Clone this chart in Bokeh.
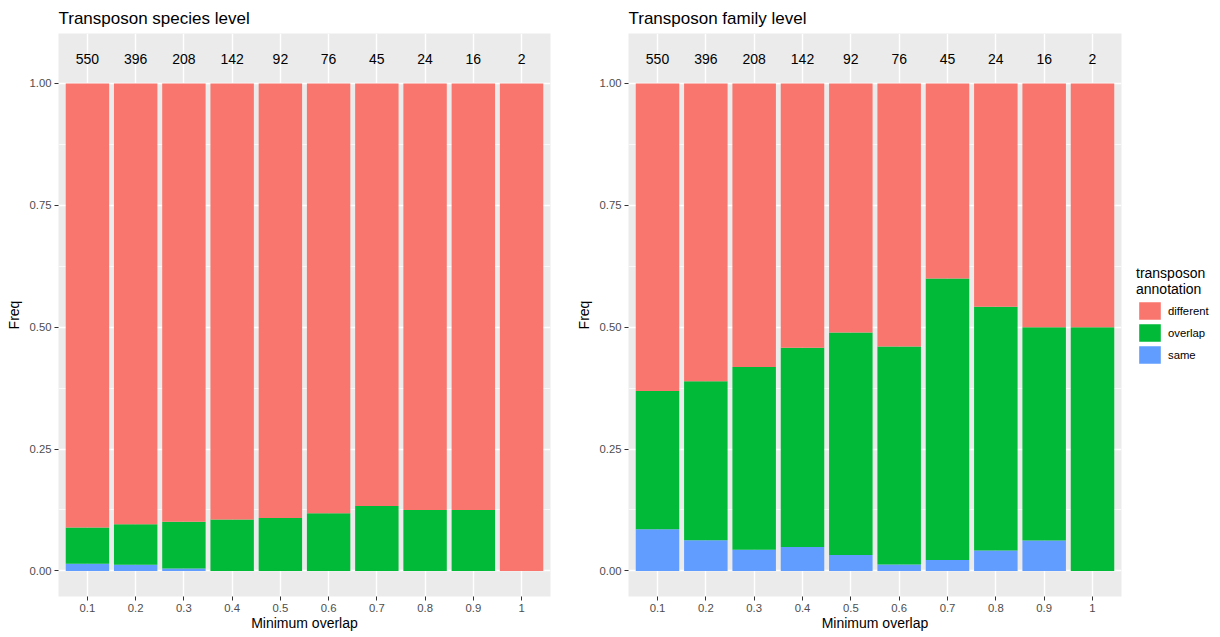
from bokeh.plotting import figure
from bokeh.layouts import row
from bokeh.models import (Range1d, FixedTicker, ColumnDataSource, Legend,
                          LegendItem, PrintfTickFormatter)
from bokeh.embed import file_html
from bokeh.resources import INLINE
from bokeh.core.properties import value

# Minimum overlap thresholds and number of transposons at each threshold
min_overlap = ["0.1", "0.2", "0.3", "0.4", "0.5", "0.6", "0.7", "0.8", "0.9", "1"]
totals = [550, 396, 208, 142, 92, 76, 45, 24, 16, 2]

# Transposon species level: frequency of each annotation class
species_same = [0.0145, 0.0126, 0.0048, 0.0, 0.0, 0.0, 0.0, 0.0, 0.0, 0.0]
species_overlap = [0.0745, 0.0833, 0.0962, 0.1056, 0.1087, 0.1184, 0.1333, 0.1250, 0.1250, 0.0]
species_different = [0.9110, 0.9041, 0.8990, 0.8944, 0.8913, 0.8816, 0.8667, 0.8750, 0.8750, 1.0]

# Transposon family level: frequency of each annotation class
family_same = [0.0855, 0.0631, 0.0433, 0.0493, 0.0326, 0.0132, 0.0222, 0.0417, 0.0625, 0.0]
family_overlap = [0.2836, 0.3259, 0.3750, 0.4084, 0.4565, 0.4473, 0.5778, 0.5000, 0.4375, 0.5]
family_different = [0.6309, 0.6110, 0.5817, 0.5423, 0.5109, 0.5395, 0.4000, 0.4583, 0.5000, 0.5]

classes = ["same", "overlap", "different"]
palette = {"different": "#F8766D", "overlap": "#00BA38", "same": "#619CFF"}
FONT = "Liberation Sans"


def panel(title, same, overlap, different, fw, fh, b_left, b_top, b_bottom,
          b_right, title_standoff):
    p = figure(frame_width=fw, frame_height=fh,
               x_range=Range1d(0.4, 10.6), y_range=Range1d(-0.0525, 1.1025),
               output_backend="svg", toolbar_location=None,
               min_border_left=b_left, min_border_top=b_top,
               min_border_bottom=b_bottom, min_border_right=b_right)
    p.background_fill_color = "#EBEBEB"
    p.border_fill_color = "white"
    p.outline_line_color = None

    pos = list(range(1, len(min_overlap) + 1))
    src = ColumnDataSource(dict(x=pos, same=same, overlap=overlap,
                                different=different,
                                n=[str(t) for t in totals]))

    # grid
    p.xgrid.ticker = FixedTicker(ticks=pos)
    p.ygrid.ticker = FixedTicker(ticks=[0, 0.25, 0.5, 0.75, 1.0],
                                 minor_ticks=[0.125, 0.375, 0.625, 0.875])
    p.grid.grid_line_color = "white"
    p.grid.grid_line_width = 1.4
    p.ygrid.minor_grid_line_color = "white"
    p.ygrid.minor_grid_line_width = 0.7

    bars = p.vbar_stack(classes, x="x", width=0.9, source=src,
                        color=[palette[c] for c in classes], line_color=None)

    p.text(x="x", y=1.05, text="n", source=src, text_align="center",
           text_baseline="middle", text_font=value(FONT),
           text_font_size="14px", text_color="black")

    # axes
    p.xaxis.ticker = FixedTicker(ticks=pos)
    p.xaxis.major_label_overrides = {i: lab for i, lab in zip(pos, min_overlap)}
    p.yaxis.ticker = FixedTicker(ticks=[0, 0.25, 0.5, 0.75, 1.0])
    p.yaxis.formatter = PrintfTickFormatter(format="%.2f")
    p.xaxis.axis_label = "Minimum overlap"
    p.yaxis.axis_label = "Freq"
    for ax in (p.xaxis[0], p.yaxis[0]):
        ax.axis_line_color = None
        ax.major_tick_in = 0
        ax.major_tick_out = 4
        ax.major_tick_line_color = "#333333"
        ax.minor_tick_line_color = None
        ax.major_label_text_font = FONT
        ax.major_label_text_font_size = "11.3px"
        ax.major_label_text_color = "#4D4D4D"
        ax.major_label_standoff = 3
        ax.axis_label_text_font = FONT
        ax.axis_label_text_font_size = "14px"
        ax.axis_label_text_font_style = "normal"
        ax.axis_label_text_color = "black"
    p.xaxis.axis_label_standoff = 0
    p.yaxis.axis_label_standoff = 5

    p.title.text = title
    p.title.text_font = FONT
    p.title.text_font_size = "17px"
    p.title.text_font_style = "normal"
    p.title.text_color = "black"
    p.title.align = "left"
    p.title.standoff = title_standoff
    return p, bars


left, _ = panel("Transposon species level", species_same, species_overlap,
                species_different, 492, 563, 58, 33, 41, 22, 11)
right, bars = panel("Transposon family level", family_same, family_overlap,
                    family_different, 493, 563, 53, 31, 43, 10, 11)

items = [LegendItem(label=c, renderers=[bars[classes.index(c)]])
         for c in ["different", "overlap", "same"]]
legend = Legend(items=items, title="transposon\nannotation",
                location="center_left", margin=15, padding=10,
                glyph_width=27, glyph_height=22, spacing=0,
                label_standoff=5, title_standoff=3,
                label_text_font=FONT, label_text_font_size="11.3px",
                label_text_color="black", title_text_font=FONT,
                title_text_font_size="14px", title_text_font_style="normal",
                title_text_color="black", border_line_color=None,
                background_fill_color="white")
right.add_layout(legend, "right")

layout = row(left, right)
open("out.html", "w").write(file_html(layout, INLINE))
